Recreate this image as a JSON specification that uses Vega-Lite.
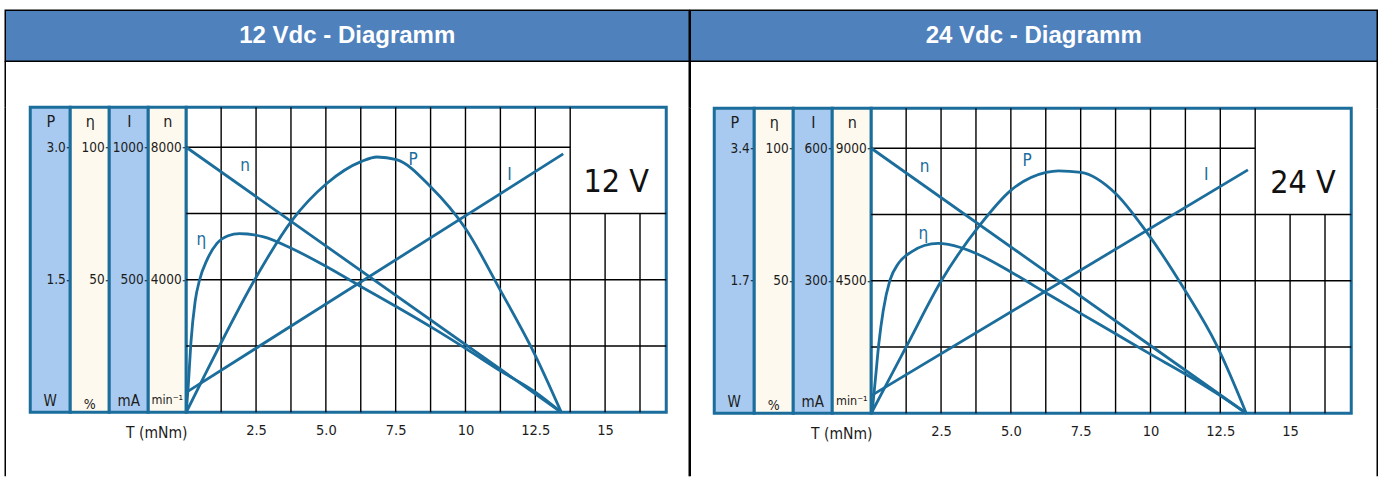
{
  "$schema": "https://vega.github.io/schema/vega-lite/v6.json",
  "background": "white",
  "padding": {"left": 4.25, "top": 9.25, "right": 0, "bottom": 0},
  "config": {"view": {"stroke": null}, "concat": {"spacing": 0}},
  "spacing": -1.5,
  "hconcat": [
    {
      "spacing": 0,
      "bounds": "flush",
      "vconcat": [
        {
          "width": 684, "height": 51,
          "view": {"fill": "#4f81bd", "stroke": "#000000", "strokeWidth": 1.5},
          "data": {"values": [{"title": "12 Vdc - Diagramm"}]},
          "mark": {"type": "text", "color": "white", "font": "Liberation Sans", "fontSize": 24, "fontWeight": "bold"},
          "encoding": {"text": {"field": "title"}}
        },
        {
          "width": 684, "height": 46,
          "data": {"values": [{}]},
          "layer": [
            {"mark": {"type": "rule", "color": "#000000", "strokeWidth": 1.5}, "encoding": {"x": {"datum": 0, "type": "quantitative", "scale": {"domain": [0, 1]}, "axis": null}}},
            {"mark": {"type": "rule", "color": "#000000", "strokeWidth": 1.5}, "encoding": {"x": {"datum": 1, "type": "quantitative", "axis": null}}}
          ]
        },
        {
          "spacing": 0,
          "bounds": "flush",
          "hconcat": [
            {
              "width": 25, "height": 369,
              "data": {"values": [{}]},
              "mark": {"type": "rule", "color": "#000000", "strokeWidth": 1.5},
              "encoding": {"x": {"datum": 0, "type": "quantitative", "scale": {"domain": [0, 1]}, "axis": null}}
            },
            {
              "width": 40, "height": 305,
              "view": {"fill": "#a8caf0", "stroke": "#1b6d9c", "strokeWidth": 3},
              "data": {"values": [{"unit": "W"}]},
              "mark": {"type": "text", "font": "'DejaVu Sans Condensed', sans-serif", "fontSize": 15, "color": "#1c1c1c", "dy": -11},
              "encoding": {
                "text": {"field": "unit"},
                "y": {"datum": 0, "type": "quantitative", "scale": {"domain": [0, 3.453], "nice": false},
                  "axis": {"orient": "left", "offset": -40, "values": [1.5, 3], "format": ".1f", "domain": false, "grid": false, "tickSize": 4, "tickColor": "#111111", "tickWidth": 1, "labelFont": "'DejaVu Sans Condensed', sans-serif", "labelFontSize": 13.5, "labelColor": "#1c1c1c", "labelPadding": 1, "labelFlush": false, "title": "P", "titleAngle": 0, "titleX": -20, "titleY": 14, "titleAlign": "center", "titleBaseline": "middle", "titleFont": "'DejaVu Sans Condensed', sans-serif", "titleFontSize": 16, "titleFontWeight": "normal", "titleColor": "#1c1c1c"}}
              }
            },
            {
              "width": 39, "height": 305,
              "view": {"fill": "#fef9ee", "stroke": "#1b6d9c", "strokeWidth": 3},
              "data": {"values": [{"unit": "%"}]},
              "mark": {"type": "text", "font": "'DejaVu Sans Condensed', sans-serif", "fontSize": 14, "color": "#1c1c1c", "dy": -7},
              "encoding": {
                "text": {"field": "unit"},
                "y": {"datum": 0, "type": "quantitative", "scale": {"domain": [0, 115.1], "nice": false},
                  "axis": {"orient": "left", "offset": -39, "values": [50, 100], "format": "d", "domain": false, "grid": false, "tickSize": 4, "tickColor": "#111111", "tickWidth": 1, "labelFont": "'DejaVu Sans Condensed', sans-serif", "labelFontSize": 13.5, "labelColor": "#1c1c1c", "labelPadding": 1, "labelFlush": false, "title": "η", "titleAngle": 0, "titleX": -19.5, "titleY": 14, "titleAlign": "center", "titleBaseline": "middle", "titleFont": "'DejaVu Sans Condensed', sans-serif", "titleFontSize": 16, "titleFontWeight": "normal", "titleColor": "#1c1c1c"}}
              }
            },
            {
              "width": 39, "height": 305,
              "view": {"fill": "#a8caf0", "stroke": "#1b6d9c", "strokeWidth": 3},
              "data": {"values": [{"unit": "mA"}]},
              "mark": {"type": "text", "font": "'DejaVu Sans Condensed', sans-serif", "fontSize": 15, "color": "#1c1c1c", "dy": -11},
              "encoding": {
                "text": {"field": "unit"},
                "y": {"datum": 0, "type": "quantitative", "scale": {"domain": [0, 1151], "nice": false},
                  "axis": {"orient": "left", "offset": -39, "values": [500, 1000], "format": "d", "domain": false, "grid": false, "tickSize": 4, "tickColor": "#111111", "tickWidth": 1, "labelFont": "'DejaVu Sans Condensed', sans-serif", "labelFontSize": 13.5, "labelColor": "#1c1c1c", "labelPadding": 1, "labelFlush": false, "title": "I", "titleAngle": 0, "titleX": -19.5, "titleY": 14, "titleAlign": "center", "titleBaseline": "middle", "titleFont": "'DejaVu Sans Condensed', sans-serif", "titleFontSize": 16, "titleFontWeight": "normal", "titleColor": "#1c1c1c"}}
              }
            },
            {
              "width": 38, "height": 305,
              "view": {"fill": "#fef9ee", "stroke": "#1b6d9c", "strokeWidth": 3},
              "data": {"values": [{"unit": "min⁻¹"}]},
              "mark": {"type": "text", "font": "'DejaVu Sans Condensed', sans-serif", "fontSize": 12.5, "color": "#1c1c1c", "dy": -12},
              "encoding": {
                "text": {"field": "unit"},
                "y": {"datum": 0, "type": "quantitative", "scale": {"domain": [0, 9208], "nice": false},
                  "axis": {"orient": "left", "offset": -38, "values": [4000, 8000], "format": "d", "domain": false, "grid": false, "tickSize": 4, "tickColor": "#111111", "tickWidth": 1, "labelFont": "'DejaVu Sans Condensed', sans-serif", "labelFontSize": 13.5, "labelColor": "#1c1c1c", "labelPadding": 1, "labelFlush": false, "title": "n", "titleAngle": 0, "titleX": -19, "titleY": 14, "titleAlign": "center", "titleBaseline": "middle", "titleFont": "'DejaVu Sans Condensed', sans-serif", "titleFontSize": 16, "titleFontWeight": "normal", "titleColor": "#1c1c1c"}}
              }
            },
            {
              "width": 480, "height": 305,
              "view": {"fill": "white", "stroke": "#1b6d9c", "strokeWidth": 3},
              "resolve": {"scale": {"y": "independent"}},
              "layer": [
                {
                  "data": {"values": [{"T": 1.25}, {"T": 2.5}, {"T": 3.75}, {"T": 5}, {"T": 6.25}, {"T": 7.5}, {"T": 8.75}, {"T": 10}, {"T": 11.25}, {"T": 12.5}, {"T": 13.75}]},
                  "mark": {"type": "rule", "color": "#000000", "strokeWidth": 1.4},
                  "encoding": {
                    "x": {"field": "T", "type": "quantitative", "scale": {"domain": [0, 17.19], "nice": false},
                      "axis": {"values": [2.5, 5, 7.5, 10, 12.5, 15], "grid": false, "ticks": false, "domain": false, "labelExpr": "datum.value == 5 ? '5.0' : format(datum.value, '')", "labelFont": "'DejaVu Sans Condensed', sans-serif", "labelFontSize": 14.5, "labelColor": "#1c1c1c", "labelPadding": 11, "labelFlush": false, "labelOverlap": false, "title": "T (mNm)", "titleFont": "'DejaVu Sans Condensed', sans-serif", "titleFontSize": 15.5, "titleFontWeight": "normal", "titleColor": "#1c1c1c", "titleX": -30, "titleY": 20, "titleAlign": "center", "titleBaseline": "middle", "titleAngle": 0}}
                  }
                },
                {
                  "data": {"values": [{"T": 15}, {"T": 16.25}]},
                  "mark": {"type": "rule", "color": "#000000", "strokeWidth": 1.4},
                  "encoding": {
                    "x": {"field": "T", "type": "quantitative", "scale": {"domain": [0, 17.19], "nice": false}},
                    "y": {"datum": 0, "type": "quantitative", "scale": {"domain": [0, 3.453], "nice": false}, "axis": null},
                    "y2": {"datum": 2.25}
                  }
                },
                {
                  "data": {"values": [{"P": 0.75}, {"P": 1.5}, {"P": 2.25}]},
                  "mark": {"type": "rule", "color": "#000000", "strokeWidth": 1.4},
                  "encoding": {
                    "y": {"field": "P", "type": "quantitative", "scale": {"domain": [0, 3.453], "nice": false}, "axis": null}
                  }
                },
                {
                  "data": {"values": [{}]},
                  "mark": {"type": "rule", "color": "#000000", "strokeWidth": 1.4},
                  "encoding": {
                    "x": {"datum": 0, "type": "quantitative", "scale": {"domain": [0, 17.19], "nice": false}},
                    "x2": {"datum": 13.75},
                    "y": {"datum": 3.0, "type": "quantitative", "scale": {"domain": [0, 3.453], "nice": false}, "axis": null}
                  }
                },
                {
                  "data": {"values": [
                    {"T": 0, "P": 0}, {"T": 0.6, "P": 0.38}, {"T": 1.19, "P": 0.75}, {"T": 2.45, "P": 1.5},
                    {"T": 3.78, "P": 2.17}, {"T": 5.03, "P": 2.59}, {"T": 6.28, "P": 2.84}, {"T": 6.83, "P": 2.89},
                    {"T": 7.53, "P": 2.86}, {"T": 8.76, "P": 2.55}, {"T": 10.0, "P": 2.08}, {"T": 11.25, "P": 1.38},
                    {"T": 12.49, "P": 0.65}, {"T": 13.43, "P": 0}
                  ]},
                  "mark": {"type": "line", "interpolate": "monotone", "color": "#1b6d9c", "strokeWidth": 2.8},
                  "encoding": {
                    "x": {"field": "T", "type": "quantitative", "scale": {"domain": [0, 17.19], "nice": false}},
                    "y": {"field": "P", "type": "quantitative", "scale": {"domain": [0, 3.453], "nice": false}, "axis": null}
                  }
                },
                {
                  "data": {"values": [
                    {"T": 0, "eta": 0}, {"T": 0.07, "eta": 9.6}, {"T": 0.165, "eta": 26}, {"T": 0.32, "eta": 42}, {"T": 0.48, "eta": 50},
                    {"T": 0.74, "eta": 57.4}, {"T": 1.1, "eta": 63.7}, {"T": 1.5, "eta": 66.6}, {"T": 1.9, "eta": 67.4}, {"T": 2.77, "eta": 66.2},
                    {"T": 3.78, "eta": 61.8}, {"T": 5.03, "eta": 54.9}, {"T": 6.28, "eta": 47.3}, {"T": 7.53, "eta": 39.8}, {"T": 8.76, "eta": 32.2},
                    {"T": 10.0, "eta": 24.1}, {"T": 11.25, "eta": 15.6}, {"T": 12.49, "eta": 7.7}, {"T": 13.43, "eta": 0}
                  ]},
                  "mark": {"type": "line", "interpolate": "monotone", "color": "#1b6d9c", "strokeWidth": 2.8},
                  "encoding": {
                    "x": {"field": "T", "type": "quantitative", "scale": {"domain": [0, 17.19], "nice": false}},
                    "y": {"field": "eta", "type": "quantitative", "scale": {"domain": [0, 115.1], "nice": false}, "axis": null}
                  }
                },
                {
                  "data": {"values": [{"T": 0, "I": 75}, {"T": 13.5, "I": 975}]},
                  "mark": {"type": "line", "color": "#1b6d9c", "strokeWidth": 2.8},
                  "encoding": {
                    "x": {"field": "T", "type": "quantitative", "scale": {"domain": [0, 17.19], "nice": false}},
                    "y": {"field": "I", "type": "quantitative", "scale": {"domain": [0, 1151], "nice": false}, "axis": null}
                  }
                },
                {
                  "data": {"values": [{"T": 0, "n": 8000}, {"T": 13.43, "n": 0}]},
                  "mark": {"type": "line", "color": "#1b6d9c", "strokeWidth": 2.8},
                  "encoding": {
                    "x": {"field": "T", "type": "quantitative", "scale": {"domain": [0, 17.19], "nice": false}},
                    "y": {"field": "n", "type": "quantitative", "scale": {"domain": [0, 9208], "nice": false}, "axis": null}
                  }
                },
                {
                  "data": {"values": [{}]},
                  "mark": {"type": "text", "font": "'DejaVu Sans Condensed', sans-serif", "fontSize": 17, "color": "#1b6d9c"},
                  "encoding": {"x": {"datum": 8.12, "type": "quantitative"}, "y": {"datum": 2.86, "type": "quantitative", "scale": {"domain": [0, 3.453], "nice": false}, "axis": null}, "text": {"value": "P"}}
                },
                {
                  "data": {"values": [{}]},
                  "mark": {"type": "text", "font": "'DejaVu Sans Condensed', sans-serif", "fontSize": 32, "color": "#111111"},
                  "encoding": {"x": {"datum": 15.4, "type": "quantitative"}, "y": {"datum": 2.61, "type": "quantitative", "scale": {"domain": [0, 3.453], "nice": false}, "axis": null}, "text": {"value": "12 V"}}
                },
                {
                  "data": {"values": [{}]},
                  "mark": {"type": "text", "font": "'DejaVu Sans Condensed', sans-serif", "fontSize": 17, "color": "#1b6d9c"},
                  "encoding": {"x": {"datum": 0.54, "type": "quantitative"}, "y": {"datum": 65, "type": "quantitative", "scale": {"domain": [0, 115.1], "nice": false}, "axis": null}, "text": {"value": "η"}}
                },
                {
                  "data": {"values": [{}]},
                  "mark": {"type": "text", "font": "'DejaVu Sans Condensed', sans-serif", "fontSize": 17, "color": "#1b6d9c"},
                  "encoding": {"x": {"datum": 11.58, "type": "quantitative"}, "y": {"datum": 895, "type": "quantitative", "scale": {"domain": [0, 1151], "nice": false}, "axis": null}, "text": {"value": "I"}}
                },
                {
                  "data": {"values": [{}]},
                  "mark": {"type": "text", "font": "'DejaVu Sans Condensed', sans-serif", "fontSize": 17, "color": "#1b6d9c"},
                  "encoding": {"x": {"datum": 2.11, "type": "quantitative"}, "y": {"datum": 7443, "type": "quantitative", "scale": {"domain": [0, 9208], "nice": false}, "axis": null}, "text": {"value": "n"}}
                }
              ]
            },
            {
              "width": 23, "height": 369,
              "data": {"values": [{}]},
              "mark": {"type": "rule", "color": "#000000", "strokeWidth": 1.5},
              "encoding": {"x": {"datum": 1, "type": "quantitative", "scale": {"domain": [0, 1]}, "axis": null}}
            }
          ]
        }
      ]
    },
    {
      "spacing": 0,
      "bounds": "flush",
      "vconcat": [
        {
          "width": 687, "height": 51,
          "view": {"fill": "#4f81bd", "stroke": "#000000", "strokeWidth": 1.5},
          "data": {"values": [{"title": "24 Vdc - Diagramm"}]},
          "mark": {"type": "text", "color": "white", "font": "Liberation Sans", "fontSize": 24, "fontWeight": "bold"},
          "encoding": {"text": {"field": "title"}}
        },
        {
          "width": 687, "height": 47,
          "data": {"values": [{}]},
          "layer": [
            {"mark": {"type": "rule", "color": "#000000", "strokeWidth": 1.5}, "encoding": {"x": {"datum": 0, "type": "quantitative", "scale": {"domain": [0, 1]}, "axis": null}}},
            {"mark": {"type": "rule", "color": "#000000", "strokeWidth": 1.5}, "encoding": {"x": {"datum": 1, "type": "quantitative", "axis": null}}}
          ]
        },
        {
          "spacing": 0,
          "bounds": "flush",
          "hconcat": [
            {
              "width": 24, "height": 368,
              "data": {"values": [{}]},
              "mark": {"type": "rule", "color": "#000000", "strokeWidth": 1.5},
              "encoding": {"x": {"datum": 0, "type": "quantitative", "scale": {"domain": [0, 1]}, "axis": null}}
            },
            {
              "width": 40, "height": 305,
              "view": {"fill": "#a8caf0", "stroke": "#1b6d9c", "strokeWidth": 3},
              "data": {"values": [{"unit": "W"}]},
              "mark": {"type": "text", "font": "'DejaVu Sans Condensed', sans-serif", "fontSize": 15, "color": "#1c1c1c", "dy": -11},
              "encoding": {
                "text": {"field": "unit"},
                "y": {"datum": 0, "type": "quantitative", "scale": {"domain": [0, 3.913], "nice": false},
                  "axis": {"orient": "left", "offset": -40, "values": [1.7, 3.4], "format": ".1f", "domain": false, "grid": false, "tickSize": 4, "tickColor": "#111111", "tickWidth": 1, "labelFont": "'DejaVu Sans Condensed', sans-serif", "labelFontSize": 13.5, "labelColor": "#1c1c1c", "labelPadding": 1, "labelFlush": false, "title": "P", "titleAngle": 0, "titleX": -20, "titleY": 14, "titleAlign": "center", "titleBaseline": "middle", "titleFont": "'DejaVu Sans Condensed', sans-serif", "titleFontSize": 16, "titleFontWeight": "normal", "titleColor": "#1c1c1c"}}
              }
            },
            {
              "width": 39, "height": 305,
              "view": {"fill": "#fef9ee", "stroke": "#1b6d9c", "strokeWidth": 3},
              "data": {"values": [{"unit": "%"}]},
              "mark": {"type": "text", "font": "'DejaVu Sans Condensed', sans-serif", "fontSize": 14, "color": "#1c1c1c", "dy": -7},
              "encoding": {
                "text": {"field": "unit"},
                "y": {"datum": 0, "type": "quantitative", "scale": {"domain": [0, 115.1], "nice": false},
                  "axis": {"orient": "left", "offset": -39, "values": [50, 100], "format": "d", "domain": false, "grid": false, "tickSize": 4, "tickColor": "#111111", "tickWidth": 1, "labelFont": "'DejaVu Sans Condensed', sans-serif", "labelFontSize": 13.5, "labelColor": "#1c1c1c", "labelPadding": 1, "labelFlush": false, "title": "η", "titleAngle": 0, "titleX": -19.5, "titleY": 14, "titleAlign": "center", "titleBaseline": "middle", "titleFont": "'DejaVu Sans Condensed', sans-serif", "titleFontSize": 16, "titleFontWeight": "normal", "titleColor": "#1c1c1c"}}
              }
            },
            {
              "width": 39, "height": 305,
              "view": {"fill": "#a8caf0", "stroke": "#1b6d9c", "strokeWidth": 3},
              "data": {"values": [{"unit": "mA"}]},
              "mark": {"type": "text", "font": "'DejaVu Sans Condensed', sans-serif", "fontSize": 15, "color": "#1c1c1c", "dy": -11},
              "encoding": {
                "text": {"field": "unit"},
                "y": {"datum": 0, "type": "quantitative", "scale": {"domain": [0, 690.6], "nice": false},
                  "axis": {"orient": "left", "offset": -39, "values": [300, 600], "format": "d", "domain": false, "grid": false, "tickSize": 4, "tickColor": "#111111", "tickWidth": 1, "labelFont": "'DejaVu Sans Condensed', sans-serif", "labelFontSize": 13.5, "labelColor": "#1c1c1c", "labelPadding": 1, "labelFlush": false, "title": "I", "titleAngle": 0, "titleX": -19.5, "titleY": 14, "titleAlign": "center", "titleBaseline": "middle", "titleFont": "'DejaVu Sans Condensed', sans-serif", "titleFontSize": 16, "titleFontWeight": "normal", "titleColor": "#1c1c1c"}}
              }
            },
            {
              "width": 39, "height": 305,
              "view": {"fill": "#fef9ee", "stroke": "#1b6d9c", "strokeWidth": 3},
              "data": {"values": [{"unit": "min⁻¹"}]},
              "mark": {"type": "text", "font": "'DejaVu Sans Condensed', sans-serif", "fontSize": 12.5, "color": "#1c1c1c", "dy": -12},
              "encoding": {
                "text": {"field": "unit"},
                "y": {"datum": 0, "type": "quantitative", "scale": {"domain": [0, 10359], "nice": false},
                  "axis": {"orient": "left", "offset": -39, "values": [4500, 9000], "format": "d", "domain": false, "grid": false, "tickSize": 4, "tickColor": "#111111", "tickWidth": 1, "labelFont": "'DejaVu Sans Condensed', sans-serif", "labelFontSize": 13.5, "labelColor": "#1c1c1c", "labelPadding": 1, "labelFlush": false, "title": "n", "titleAngle": 0, "titleX": -19.5, "titleY": 14, "titleAlign": "center", "titleBaseline": "middle", "titleFont": "'DejaVu Sans Condensed', sans-serif", "titleFontSize": 16, "titleFontWeight": "normal", "titleColor": "#1c1c1c"}}
              }
            },
            {
              "width": 480, "height": 305,
              "view": {"fill": "white", "stroke": "#1b6d9c", "strokeWidth": 3},
              "resolve": {"scale": {"y": "independent"}},
              "layer": [
                {
                  "data": {"values": [{"T": 1.25}, {"T": 2.5}, {"T": 3.75}, {"T": 5}, {"T": 6.25}, {"T": 7.5}, {"T": 8.75}, {"T": 10}, {"T": 11.25}, {"T": 12.5}, {"T": 13.75}]},
                  "mark": {"type": "rule", "color": "#000000", "strokeWidth": 1.4},
                  "encoding": {
                    "x": {"field": "T", "type": "quantitative", "scale": {"domain": [0, 17.19], "nice": false},
                      "axis": {"values": [2.5, 5, 7.5, 10, 12.5, 15], "grid": false, "ticks": false, "domain": false, "labelExpr": "datum.value == 5 ? '5.0' : format(datum.value, '')", "labelFont": "'DejaVu Sans Condensed', sans-serif", "labelFontSize": 14.5, "labelColor": "#1c1c1c", "labelPadding": 11, "labelFlush": false, "labelOverlap": false, "title": "T (mNm)", "titleFont": "'DejaVu Sans Condensed', sans-serif", "titleFontSize": 15.5, "titleFontWeight": "normal", "titleColor": "#1c1c1c", "titleX": -30, "titleY": 20, "titleAlign": "center", "titleBaseline": "middle", "titleAngle": 0}}
                  }
                },
                {
                  "data": {"values": [{"T": 15}, {"T": 16.25}]},
                  "mark": {"type": "rule", "color": "#000000", "strokeWidth": 1.4},
                  "encoding": {
                    "x": {"field": "T", "type": "quantitative", "scale": {"domain": [0, 17.19], "nice": false}},
                    "y": {"datum": 0, "type": "quantitative", "scale": {"domain": [0, 3.913], "nice": false}, "axis": null},
                    "y2": {"datum": 2.55}
                  }
                },
                {
                  "data": {"values": [{"P": 0.85}, {"P": 1.7}, {"P": 2.55}]},
                  "mark": {"type": "rule", "color": "#000000", "strokeWidth": 1.4},
                  "encoding": {
                    "y": {"field": "P", "type": "quantitative", "scale": {"domain": [0, 3.913], "nice": false}, "axis": null}
                  }
                },
                {
                  "data": {"values": [{}]},
                  "mark": {"type": "rule", "color": "#000000", "strokeWidth": 1.4},
                  "encoding": {
                    "x": {"datum": 0, "type": "quantitative", "scale": {"domain": [0, 17.19], "nice": false}},
                    "x2": {"datum": 13.75},
                    "y": {"datum": 3.4, "type": "quantitative", "scale": {"domain": [0, 3.913], "nice": false}, "axis": null}
                  }
                },
                {
                  "data": {"values": [
                    {"T": 0, "P": 0}, {"T": 0.6, "P": 0.41}, {"T": 1.25, "P": 0.85}, {"T": 2.51, "P": 1.7},
                    {"T": 3.88, "P": 2.41}, {"T": 5.0, "P": 2.86}, {"T": 6.26, "P": 3.09}, {"T": 6.71, "P": 3.11},
                    {"T": 7.51, "P": 3.09}, {"T": 8.75, "P": 2.82}, {"T": 9.85, "P": 2.33}, {"T": 11.23, "P": 1.58},
                    {"T": 12.36, "P": 0.88}, {"T": 13.43, "P": 0}
                  ]},
                  "mark": {"type": "line", "interpolate": "monotone", "color": "#1b6d9c", "strokeWidth": 2.8},
                  "encoding": {
                    "x": {"field": "T", "type": "quantitative", "scale": {"domain": [0, 17.19], "nice": false}},
                    "y": {"field": "P", "type": "quantitative", "scale": {"domain": [0, 3.913], "nice": false}, "axis": null}
                  }
                },
                {
                  "data": {"values": [
                    {"T": 0.03, "eta": 0}, {"T": 0.155, "eta": 13.6}, {"T": 0.27, "eta": 26.2}, {"T": 0.43, "eta": 38.8}, {"T": 0.67, "eta": 50.2},
                    {"T": 0.97, "eta": 56.5}, {"T": 1.44, "eta": 60.9}, {"T": 1.9, "eta": 63.3}, {"T": 2.4, "eta": 64.1}, {"T": 2.76, "eta": 63.7},
                    {"T": 3.76, "eta": 60.3}, {"T": 5.0, "eta": 53.3}, {"T": 6.26, "eta": 45.4}, {"T": 7.51, "eta": 37.6}, {"T": 8.75, "eta": 30.0},
                    {"T": 9.98, "eta": 22.4}, {"T": 11.23, "eta": 14.9}, {"T": 12.4, "eta": 7.3}, {"T": 13.43, "eta": 0}
                  ]},
                  "mark": {"type": "line", "interpolate": "monotone", "color": "#1b6d9c", "strokeWidth": 2.8},
                  "encoding": {
                    "x": {"field": "T", "type": "quantitative", "scale": {"domain": [0, 17.19], "nice": false}},
                    "y": {"field": "eta", "type": "quantitative", "scale": {"domain": [0, 115.1], "nice": false}, "axis": null}
                  }
                },
                {
                  "data": {"values": [{"T": 0, "I": 40}, {"T": 13.49, "I": 551}]},
                  "mark": {"type": "line", "color": "#1b6d9c", "strokeWidth": 2.8},
                  "encoding": {
                    "x": {"field": "T", "type": "quantitative", "scale": {"domain": [0, 17.19], "nice": false}},
                    "y": {"field": "I", "type": "quantitative", "scale": {"domain": [0, 690.6], "nice": false}, "axis": null}
                  }
                },
                {
                  "data": {"values": [{"T": 0, "n": 9000}, {"T": 13.43, "n": 0}]},
                  "mark": {"type": "line", "color": "#1b6d9c", "strokeWidth": 2.8},
                  "encoding": {
                    "x": {"field": "T", "type": "quantitative", "scale": {"domain": [0, 17.19], "nice": false}},
                    "y": {"field": "n", "type": "quantitative", "scale": {"domain": [0, 10359], "nice": false}, "axis": null}
                  }
                },
                {
                  "data": {"values": [{}]},
                  "mark": {"type": "text", "font": "'DejaVu Sans Condensed', sans-serif", "fontSize": 17, "color": "#1b6d9c"},
                  "encoding": {"x": {"datum": 5.58, "type": "quantitative"}, "y": {"datum": 3.23, "type": "quantitative", "scale": {"domain": [0, 3.913], "nice": false}, "axis": null}, "text": {"value": "P"}}
                },
                {
                  "data": {"values": [{}]},
                  "mark": {"type": "text", "font": "'DejaVu Sans Condensed', sans-serif", "fontSize": 32, "color": "#111111"},
                  "encoding": {"x": {"datum": 15.46, "type": "quantitative"}, "y": {"datum": 2.96, "type": "quantitative", "scale": {"domain": [0, 3.913], "nice": false}, "axis": null}, "text": {"value": "24 V"}}
                },
                {
                  "data": {"values": [{}]},
                  "mark": {"type": "text", "font": "'DejaVu Sans Condensed', sans-serif", "fontSize": 17, "color": "#1b6d9c"},
                  "encoding": {"x": {"datum": 1.87, "type": "quantitative"}, "y": {"datum": 67.8, "type": "quantitative", "scale": {"domain": [0, 115.1], "nice": false}, "axis": null}, "text": {"value": "η"}}
                },
                {
                  "data": {"values": [{}]},
                  "mark": {"type": "text", "font": "'DejaVu Sans Condensed', sans-serif", "fontSize": 17, "color": "#1b6d9c"},
                  "encoding": {"x": {"datum": 12.0, "type": "quantitative"}, "y": {"datum": 539, "type": "quantitative", "scale": {"domain": [0, 690.6], "nice": false}, "axis": null}, "text": {"value": "I"}}
                },
                {
                  "data": {"values": [{}]},
                  "mark": {"type": "text", "font": "'DejaVu Sans Condensed', sans-serif", "fontSize": 17, "color": "#1b6d9c"},
                  "encoding": {"x": {"datum": 1.91, "type": "quantitative"}, "y": {"datum": 8372, "type": "quantitative", "scale": {"domain": [0, 10359], "nice": false}, "axis": null}, "text": {"value": "n"}}
                }
              ]
            },
            {
              "width": 26, "height": 368,
              "data": {"values": [{}]},
              "mark": {"type": "rule", "color": "#000000", "strokeWidth": 1.5},
              "encoding": {"x": {"datum": 1, "type": "quantitative", "scale": {"domain": [0, 1]}, "axis": null}}
            }
          ]
        }
      ]
    }
  ]
}
